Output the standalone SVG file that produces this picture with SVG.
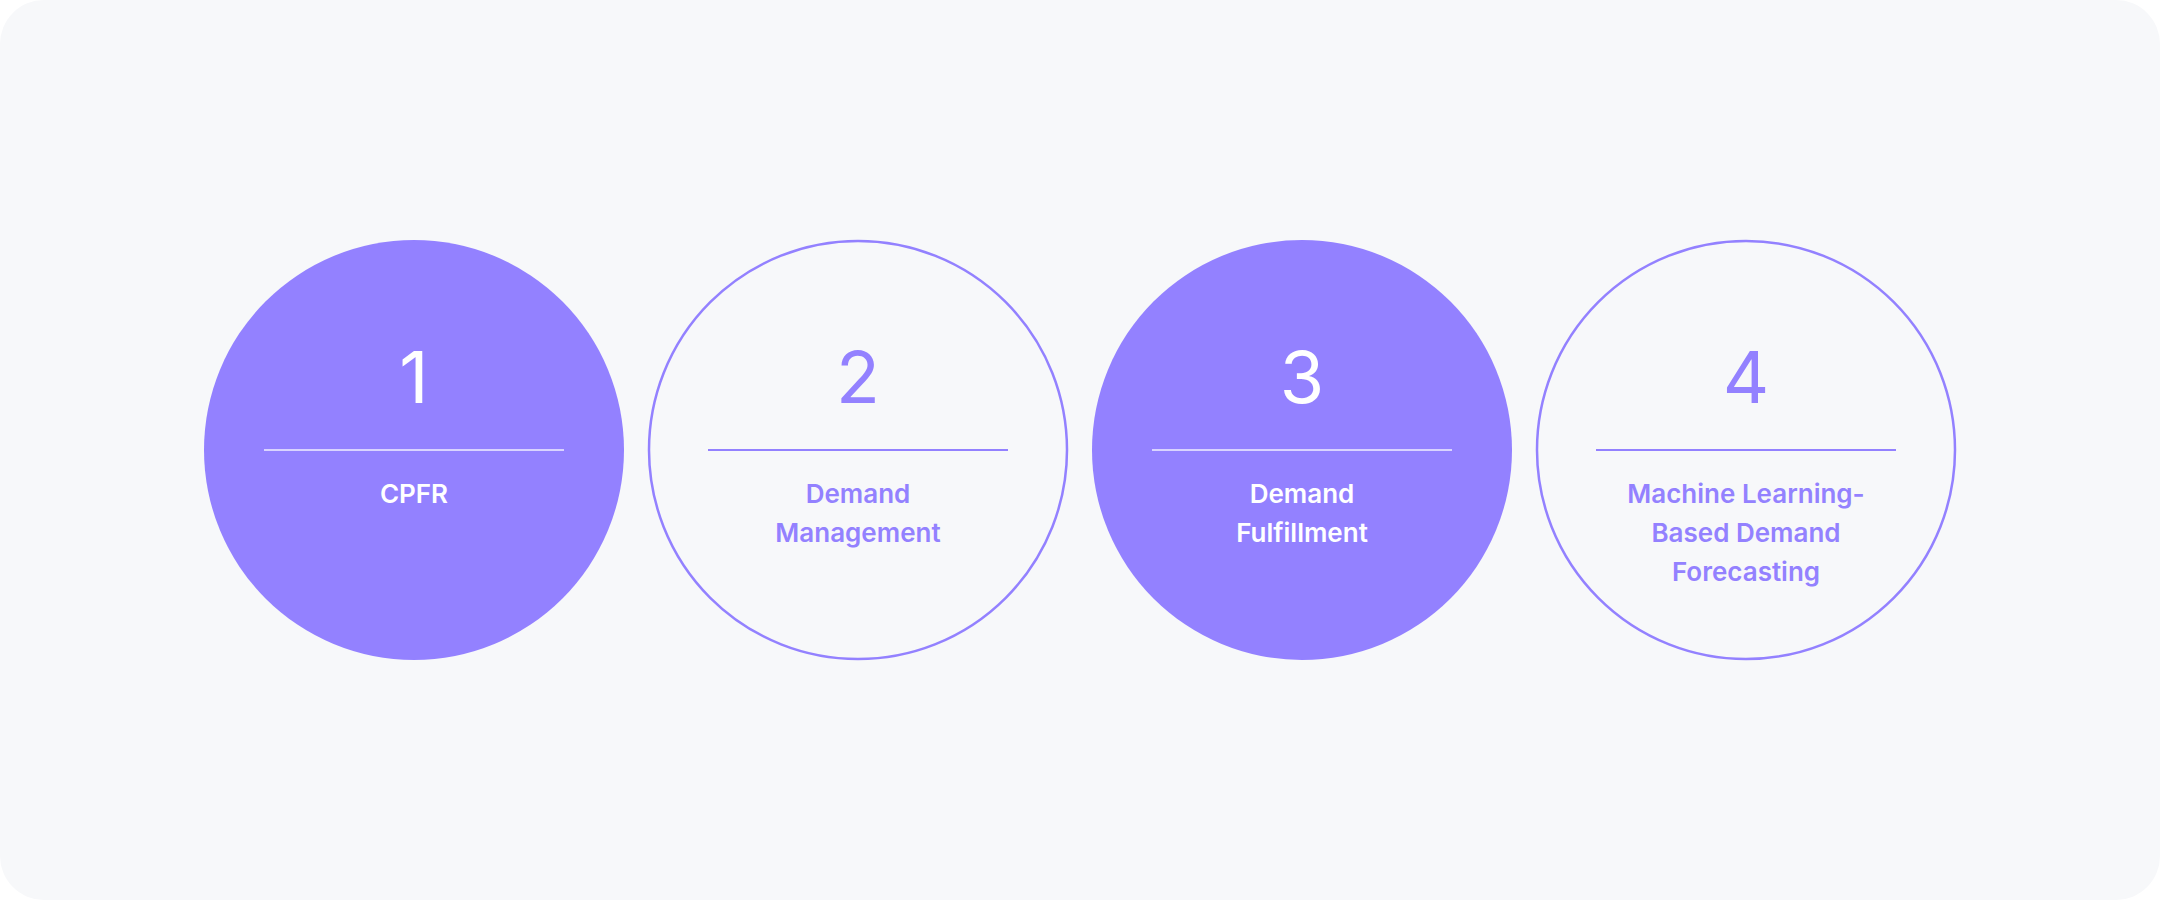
<svg xmlns="http://www.w3.org/2000/svg" width="2160" height="900" viewBox="0 0 2160 900">
<style>
.num{font-family:Inter,"Liberation Sans",sans-serif;font-size:72px;font-weight:400;text-anchor:middle}
.lbl{font-family:Inter,"Liberation Sans",sans-serif;font-size:26px;font-weight:600;text-anchor:middle}
.w{fill:#FFFFFF}
.p{fill:#9381FF}
.filled{fill:#9381FF}
.outline{fill:none;stroke:#9381FF;stroke-width:2.5}
.sepw{stroke:#FFFFFF;stroke-opacity:0.65;stroke-width:2}
.sepp{stroke:#9381FF;stroke-width:2}
</style>
<rect x="0" y="0" width="2160" height="900" fill="#FFFFFF"/>
<rect x="0" y="0" width="2160" height="900" rx="44" ry="44" fill="#F7F8FA"/>
<g id="connectors"></g>
<g id="node1">
<circle class="filled" cx="414" cy="450" r="210"/>
<text class="num w" x="414" y="403">1</text>
<line class="sepw" x1="264" y1="450" x2="564" y2="450"/>
<text class="lbl w" x="414" y="503">CPFR</text>
</g>
<g id="node2">
<circle class="outline" cx="858" cy="450" r="209"/>
<text class="num p" x="858" y="403">2</text>
<line class="sepp" x1="708" y1="450" x2="1008" y2="450"/>
<text class="lbl p" x="858" y="503">Demand</text>
<text class="lbl p" x="858" y="542">Management</text>
</g>
<g id="node3">
<circle class="filled" cx="1302" cy="450" r="210"/>
<text class="num w" x="1302" y="403">3</text>
<line class="sepw" x1="1152" y1="450" x2="1452" y2="450"/>
<text class="lbl w" x="1302" y="503">Demand</text>
<text class="lbl w" x="1302" y="542">Fulfillment</text>
</g>
<g id="node4">
<circle class="outline" cx="1746" cy="450" r="209"/>
<text class="num p" x="1746" y="403">4</text>
<line class="sepp" x1="1596" y1="450" x2="1896" y2="450"/>
<text class="lbl p" x="1746" y="503">Machine Learning-</text>
<text class="lbl p" x="1746" y="542">Based Demand</text>
<text class="lbl p" x="1746" y="581">Forecasting</text>
</g>
</svg>
